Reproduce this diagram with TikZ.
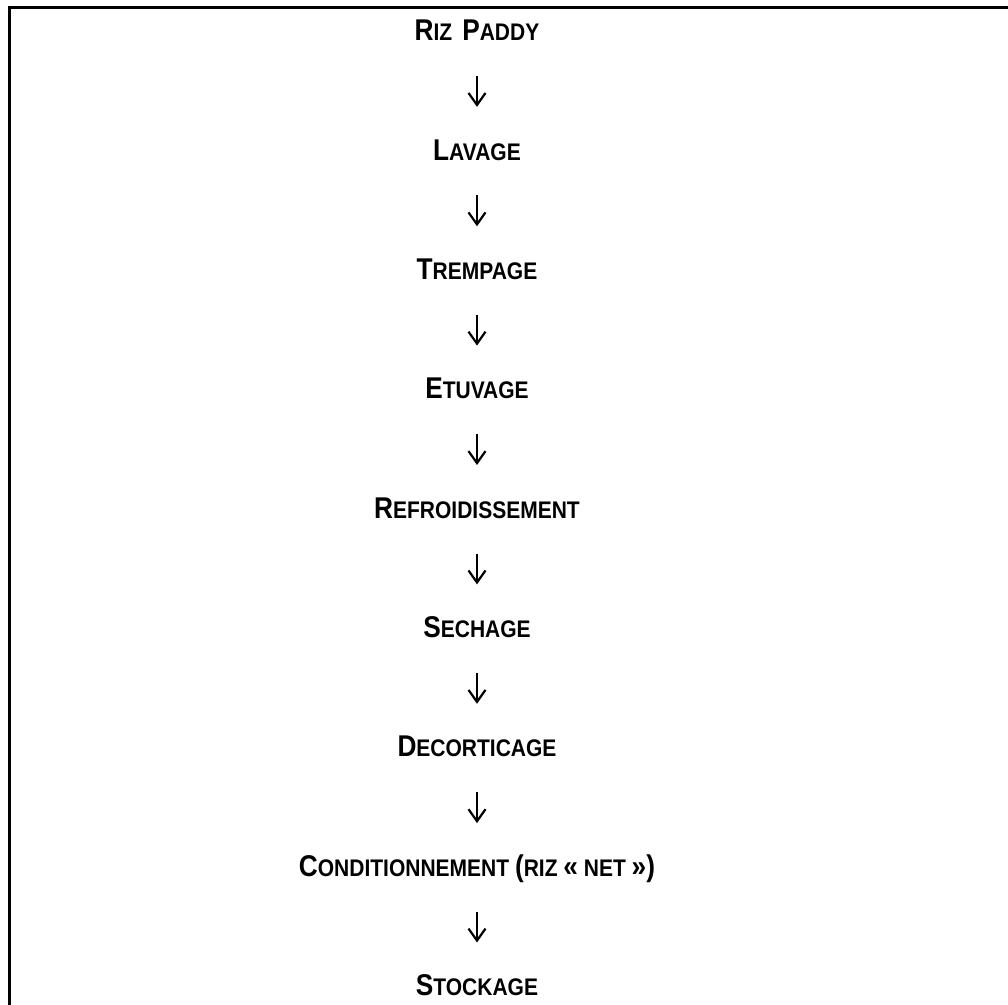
\documentclass[tikz,border=0pt]{standalone}
\usepackage{fontspec}
\usepackage{tikz}
\usetikzlibrary{arrows.meta}
\newfontfamily\stagefont{Liberation Sans}[FakeStretch=0.875]
\newcommand{\smc}[2]{{\fontsize{15}{15}\selectfont #1}{\fontsize{12}{12}\selectfont #2}}
\newcommand{\fullsz}[1]{{\fontsize{15}{15}\selectfont #1}}
\tikzset{
    stage/.style={inner sep=0pt,text height=10.7pt,text depth=0pt,font=\stagefont\bfseries},
    flow/.style={-{Straight Barb[length=6pt,width=8.5pt]},line width=1.1pt,shorten <=17.5pt,shorten >=15.7pt}
}

\begin{document}
\begin{tikzpicture}[x=0.5pt,y=-0.5pt]
        \useasboundingbox (0,0) rectangle (1008,1005);
        \draw[line width=1.5pt] (1010,8)--(9.3,8)--(9.3,1010);

        \node[stage] (paddy) at (477,30) {\smc{R}{IZ}\hspace{5pt}\smc{P}{ADDY}};
        \node[stage] (lavage) at (477,149.4) {\smc{L}{AVAGE}};
        \node[stage] (trempage) at (477,268.8) {\smc{T}{REMPAGE}};
        \node[stage] (etuvage) at (477,388.1) {\smc{E}{TUVAGE}};
        \node[stage] (refroid) at (477,507.5) {\smc{R}{EFROIDISSEMENT}};
        \node[stage] (sechage) at (477,626.9) {\smc{S}{ECHAGE}};
        \node[stage] (decort) at (477,746.3) {\smc{D}{ECORTICAGE}};
        \node[stage] (condit) at (477,865.6) {\smc{C}{ONDITIONNEMENT \fullsz{(}RIZ \fullsz{«} NET \fullsz{»}\fullsz{)}}};
        \node[stage] (stockage) at (477,985) {\smc{S}{TOCKAGE}};

        \draw[flow] (paddy)--(lavage);
        \draw[flow] (lavage)--(trempage);
        \draw[flow] (trempage)--(etuvage);
        \draw[flow] (etuvage)--(refroid);
        \draw[flow] (refroid)--(sechage);
        \draw[flow] (sechage)--(decort);
        \draw[flow] (decort)--(condit);
        \draw[flow] (condit)--(stockage);
    \end{tikzpicture}
\end{document}
